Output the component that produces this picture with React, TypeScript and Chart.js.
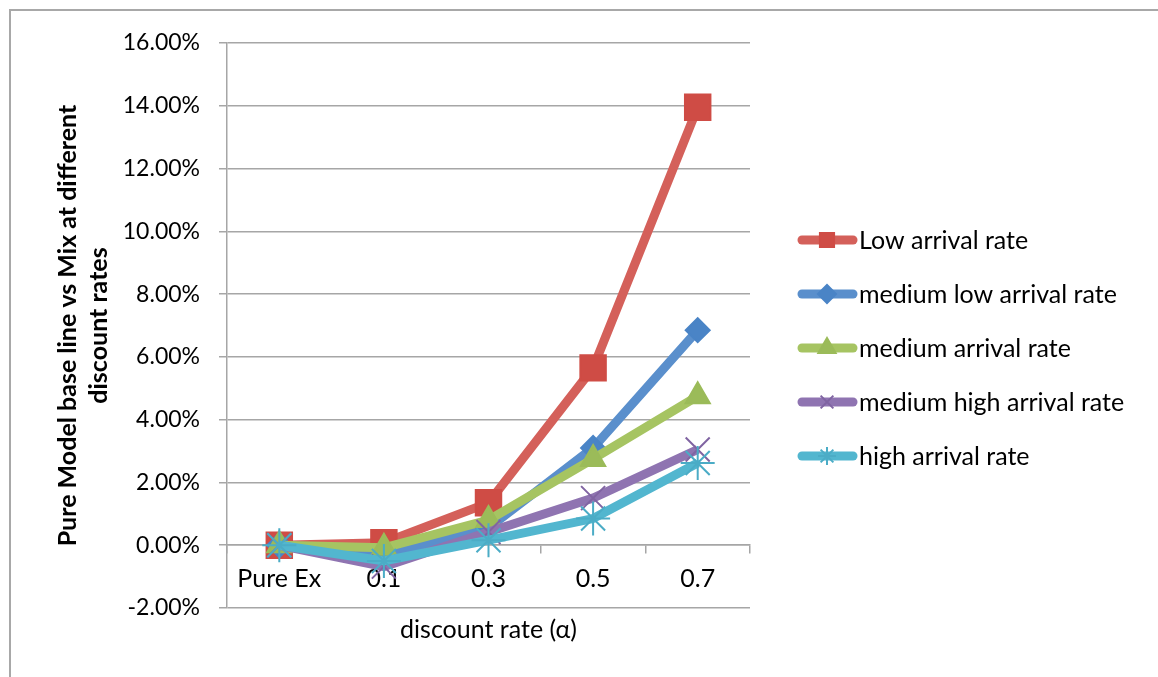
import React, { useEffect, useRef } from 'react';
import { Chart, registerables } from 'chart.js';
import { drawPoint } from 'chart.js/helpers';

Chart.register(...registerables);

const categories = ['Pure Ex', '0.1', '0.3', '0.5', '0.7'];
const seriesNames = [
  'Low arrival rate',
  'medium low arrival rate',
  'medium arrival rate',
  'medium high arrival rate',
  'high arrival rate',
];
const lowArrival = [0, 0.08, 1.35, 5.65, 13.95];
const mediumLowArrival = [0, -0.3, 0.55, 3.1, 6.85];
const mediumArrival = [0, -0.08, 0.8, 2.75, 4.75];
const mediumHighArrival = [0, -0.68, 0.42, 1.5, 3.05];
const highArrival = [0, -0.5, 0.16, 0.85, 2.62];
const yMin = -2;
const yMax = 16;
const yStep = 2;
const yTitle = ['Pure Model base line vs Mix at different', 'discount rates'];
const xTitle = 'discount rate (α)';

const lineColors = ['#D4605A', '#5A8FCC', '#A6C462', '#8F74B1', '#52B6CF'];
const markerColors = ['#CF4C45', '#4A84C6', '#9BBB59', '#8064A2', '#4BACC6'];
const markerStyles = ['rect', 'rectRot', 'triangle', 'crossRot', 'star'];
const markerRadius = [18, 12, 14, 17, 17];
const legendRadius = [10, 9, 10, 9, 9];

const FONT = 'Lato, "Open Sans", sans-serif';
const FONT_SIZE = 25;
const TICK_FONT_SIZE = 23;
const GRID = '#a6a6a6';

const customLegend = {
  id: 'customLegend',
  afterDraw(chart: any) {
    const ctx = chart.ctx;
    const area = chart.chartArea;
    const x0 = area.right + 48;
    const spacing = 54;
    const cy0 = 348 - 2 * spacing;
    seriesNames.forEach((name, di) => {
      const cy = cy0 + di * spacing;
      ctx.save();
      ctx.strokeStyle = lineColors[di];
      ctx.lineWidth = 9;
      ctx.lineCap = 'round';
      ctx.beginPath();
      ctx.moveTo(x0 + 4, cy);
      ctx.lineTo(x0 + 55, cy);
      ctx.stroke();
      ctx.lineCap = 'butt';
      ctx.lineWidth = 2;
      ctx.fillStyle = markerColors[di];
      ctx.strokeStyle = markerColors[di];
      drawPoint(
        ctx,
        { pointStyle: markerStyles[di], rotation: 0, borderWidth: 2, radius: legendRadius[di] } as any,
        x0 + 29,
        cy
      );
      ctx.fillStyle = '#000';
      ctx.font = `${FONT_SIZE}px ${FONT}`;
      ctx.textAlign = 'left';
      ctx.textBaseline = 'middle';
      ctx.fillText(name, x0 + 61, cy + 1);
      ctx.restore();
    });
  },
};

export default function App() {
  const ref = useRef<HTMLCanvasElement | null>(null);

  useEffect(() => {
    document.body.style.margin = '0';
    const values = [lowArrival, mediumLowArrival, mediumArrival, mediumHighArrival, highArrival];
    const datasets = values.map((data, i) => ({
      label: seriesNames[i],
      data,
      borderColor: lineColors[i],
      backgroundColor: markerColors[i],
      borderWidth: 9,
      pointStyle: markerStyles[i],
      pointRadius: markerRadius[i],
      pointBorderColor: markerColors[i],
      pointBackgroundColor: markerColors[i],
      pointBorderWidth: 2,
      tension: 0,
      order: 5 - i,
    }));
    const chart = new Chart(ref.current as HTMLCanvasElement, {
      type: 'line',
      data: { labels: categories, datasets },
      plugins: [customLegend],
      options: {
        responsive: false,
        animation: false,
        devicePixelRatio: 1,
        layout: { padding: { left: 52, top: 43, right: 408, bottom: 69 } },
        plugins: {
          tooltip: { enabled: false },
          legend: { display: false },
        },
        scales: {
          x: {
            position: { y: 0 } as any,
            offset: true,
            grid: {
              offset: true,
              drawOnChartArea: false,
              drawTicks: true,
              tickLength: 8,
              color: GRID,
              lineWidth: 1.5,
            },
            border: { color: GRID, width: 1.5 },
            ticks: { padding: 11, color: '#000', font: { family: FONT, size: FONT_SIZE } },
            title: {
              display: true,
              text: xTitle,
              color: '#000',
              font: { family: FONT, size: FONT_SIZE },
              padding: { top: 10, bottom: 0 },
            },
          },
          y: {
            min: yMin,
            max: yMax,
            afterFit: (s: any) => {
              s.width = 175;
            },
            ticks: {
              stepSize: yStep,
              padding: 19,
              color: '#000',
              font: { family: FONT, size: TICK_FONT_SIZE },
              callback: (v: any) => Number(v).toFixed(2) + '%',
            },
            grid: { color: GRID, lineWidth: 1.5, tickLength: 8 },
            border: { color: GRID, width: 1.5 },
            title: {
              display: true,
              text: yTitle,
              color: '#000',
              font: { family: FONT, size: 25, weight: 'bold', lineHeight: 1.25 },
              padding: { top: 0, bottom: 0 },
            },
          },
        },
      },
    });
    return () => chart.destroy();
  }, []);

  return (
    <div style={{ position: 'relative', width: 1158, height: 677 }}>
      <canvas ref={ref} width={1158} height={677} style={{ display: 'block' }} />
      <div
        style={{
          position: 'absolute',
          left: 9,
          top: 9,
          right: -5,
          bottom: -5,
          borderLeft: '2px solid #a8a8a8',
          borderTop: '2px solid #a8a8a8',
          pointerEvents: 'none',
        }}
      />
    </div>
  );
}
